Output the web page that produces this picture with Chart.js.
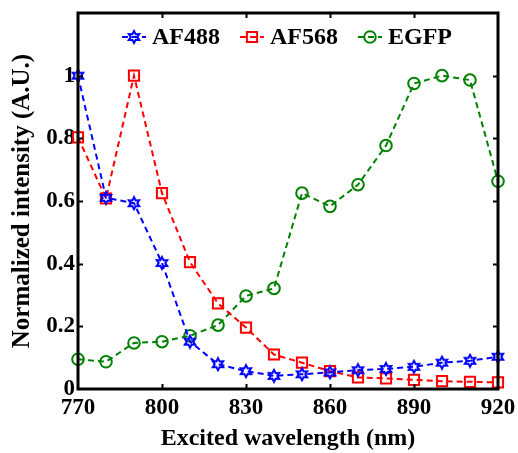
<!DOCTYPE html>
<html>
<head>
<meta charset="utf-8">
<script src="https://cdn.jsdelivr.net/npm/chart.js@4/dist/chart.umd.min.js"></script>
<style>
html,body{margin:0;padding:0;background:#fff;}
#wrap{width:518px;height:453px;position:relative;}
</style>
</head>
<body>
<div id="wrap"><canvas id="c" width="518" height="453"></canvas></div>
<script>
const wavelengths = [770,780,790,800,810,820,830,840,850,860,870,880,890,900,910,920];
const af488 = [1.0,0.61,0.593,0.402,0.151,0.079,0.057,0.042,0.047,0.053,0.06,0.064,0.071,0.084,0.09,0.103];
const af568 = [0.803,0.608,1.0,0.625,0.405,0.273,0.196,0.110,0.084,0.057,0.037,0.034,0.029,0.025,0.023,0.021];
const egfp  = [0.095,0.087,0.147,0.151,0.170,0.204,0.297,0.321,0.625,0.583,0.652,0.777,0.975,1.0,0.986,0.663];
const seriesNames = ['AF488','AF568','EGFP'];
const xTicks = [770,800,830,860,890,920];
const yTicks = [0,0.2,0.4,0.6,0.8,1];
const xTitle = 'Excited wavelength (nm)';
const yTitle = 'Normalized intensity (A.U.)';

const FONT = '"Liberation Serif","Times New Roman",serif';

function hexagram(color){
  const s = 16, c = document.createElement('canvas');
  c.width = s; c.height = s;
  const g = c.getContext('2d');
  const R = 6, r = R*0.55, cx = s/2, cy = s/2;
  g.beginPath();
  for(let i=0;i<12;i++){
    const a = -Math.PI/2 + i*Math.PI/6;
    const rr = i%2===0 ? R : r;
    const px = cx + rr*Math.cos(a), py = cy + rr*Math.sin(a);
    if(i===0) g.moveTo(px,py); else g.lineTo(px,py);
  }
  g.closePath();
  g.strokeStyle = color; g.lineWidth = 2; g.stroke();
  return c;
}
const hexBlue = hexagram('#0000ff');

function pts(arr){ return wavelengths.map((w,i)=>({x:w,y:arr[i]})); }

const common = {borderWidth:2, borderDash:[6,4], fill:false, tension:0, clip:false,
  pointBorderWidth:2, pointBackgroundColor:'rgba(0,0,0,0)'};

const datasets = [
  Object.assign({}, common, {label:seriesNames[0], data:pts(af488), borderColor:'#0000ff', pointBorderColor:'#0000ff', pointStyle:hexBlue, pointRadius:6}),
  Object.assign({}, common, {label:seriesNames[1], data:pts(af568), borderColor:'#ff0000', pointBorderColor:'#ff0000', pointStyle:'rect', pointRadius:7.2}),
  Object.assign({}, common, {label:seriesNames[2], data:pts(egfp), borderColor:'#008000', pointBorderColor:'#008000', pointStyle:'circle', pointRadius:5.8})
];

const frame = {
  id:'frame',
  afterDatasetsDraw(chart){
    const {ctx, chartArea:a, scales:{x,y}} = chart;
    ctx.save();
    ctx.strokeStyle = '#000'; ctx.lineWidth = 2;
    const tl = 5;
    ctx.beginPath();
    xTicks.forEach(v=>{
      const px = Math.round(x.getPixelForValue(v))+0.5;
      if(v===xTicks[0]||v===xTicks[xTicks.length-1]) return;
      ctx.moveTo(px,a.bottom); ctx.lineTo(px,a.bottom-tl);
      ctx.moveTo(px,a.top); ctx.lineTo(px,a.top+tl);
    });
    yTicks.forEach(v=>{
      if(v===0) return;
      const py = Math.round(y.getPixelForValue(v))+0.5;
      ctx.moveTo(a.left,py); ctx.lineTo(a.left+tl,py);
      ctx.moveTo(a.right,py); ctx.lineTo(a.right-tl,py);
    });
    ctx.stroke();
    ctx.lineWidth = 3;
    ctx.strokeRect(a.left, a.top, a.right-a.left, a.bottom-a.top);
    // legend
    ctx.font = 'bold 24px ' + FONT;
    ctx.textBaseline = 'middle';
    let lx = 122; const ly = 37;
    chart.data.datasets.forEach((ds,i)=>{
      ctx.save();
      ctx.strokeStyle = ds.borderColor; ctx.lineWidth = 2; ctx.setLineDash([6,4]);
      ctx.beginPath(); ctx.moveTo(lx,ly); ctx.lineTo(lx+24,ly); ctx.stroke();
      ctx.setLineDash([]);
      ctx.fillStyle = 'rgba(0,0,0,0)';
      ctx.strokeStyle = ds.pointBorderColor; ctx.lineWidth = 2;
      Chart.helpers.drawPoint(ctx, {pointStyle:ds.pointStyle, radius:ds.pointRadius, borderWidth:2, rotation:0}, lx+12, ly);
      ctx.restore();
      ctx.fillStyle = '#000';
      ctx.fillText(ds.label, lx+30, ly+1);
      lx += 30 + ctx.measureText(ds.label).width + 20;
    });
    ctx.restore();
  }
};

new Chart(document.getElementById('c'), {
  type:'line',
  data:{datasets},
  options:{
    responsive:false, animation:false, devicePixelRatio:1,
    layout:{padding:{left:0,right:20,top:13,bottom:0}},
    plugins:{legend:{display:false}, tooltip:{enabled:false}},
    scales:{
      x:{type:'linear', min:770, max:920,
        afterBuildTicks:s=>{s.ticks = xTicks.map(v=>({value:v}));},
        afterFit:s=>{s.height = 64; s.paddingLeft = 0; s.paddingRight = 0;},
        grid:{display:false, drawTicks:false}, border:{display:false},
        ticks:{color:'#000', font:{family:FONT, size:23, weight:'bold'}, padding:5, maxRotation:0, autoSkip:false},
        title:{display:true, text:xTitle, color:'#000', font:{family:FONT, size:24, weight:'bold'}, padding:{top:0,bottom:0}}
      },
      y:{type:'linear', min:0, max:1.2,
        afterBuildTicks:s=>{s.ticks = yTicks.map(v=>({value:v}));},
        afterFit:s=>{s.width = 78; s.paddingTop = 0; s.paddingBottom = 0;},
        grid:{display:false, drawTicks:false}, border:{display:false},
        ticks:{color:'#000', font:{family:FONT, size:23, weight:'bold'}, padding:3, callback:v=>String(v)},
        title:{display:true, text:yTitle, color:'#000', font:{family:FONT, size:25, weight:'bold'}, padding:{top:8,bottom:0}}
      }
    }
  },
  plugins:[frame]
});
</script>
</body>
</html>
